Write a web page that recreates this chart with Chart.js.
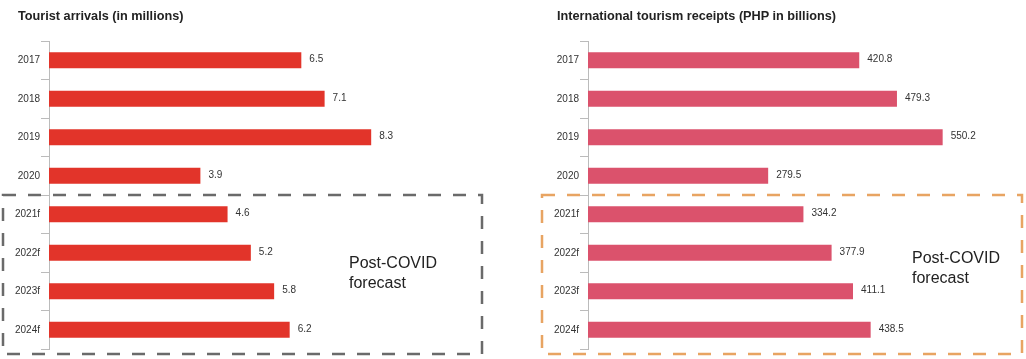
<!DOCTYPE html>
<html lang="en">
<head>
<meta charset="UTF-8">
<title>Tourism</title>
<style>
    body{
        margin: 0;
        background: #fff;
        font-family: "Liberation Sans", Arial, sans-serif;
    }
    .wrap{
        position: relative;
        width: 1026px;
        height: 359px;
        overflow: hidden;
    }
    .panel{
        position: absolute;
        top: 0;
        width: 513px;
        height: 359px;
    }
    .title{
        position: absolute;
        top: 8px;
        font-size: 12.7px;
        line-height: 16px;
        font-weight: bold;
        color: #222;
        white-space: nowrap;
    }
    .note{
        position: absolute;
        font-size: 16px;
        line-height: 20px;
        color: #222;
    }
</style>
</head>
<body>
<div class="wrap">
    <div class="panel" style="left:0px"><canvas id="chartArrivals" width="513" height="359"></canvas></div>
    <div class="panel" style="left:513px"><canvas id="chartReceipts" width="513" height="359"></canvas></div>
    <div class="title" style="left:18px">Tourist arrivals (in millions)</div>
    <div class="title" style="left:557px">International tourism receipts (PHP in billions)</div>
    <div class="note" style="left:349px;top:253px">Post-COVID<br>forecast</div>
    <div class="note" style="left:912px;top:248px">Post-COVID<br>forecast</div>
</div>

<script src="https://cdn.jsdelivr.net/npm/chart.js"></script>
<script>
// data
var years = ['2017', '2018', '2019', '2020', '2021f', '2022f', '2023f', '2024f'];
var arrivals = [6.5, 7.1, 8.3, 3.9, 4.6, 5.2, 5.8, 6.2];      // millions
var receipts = [420.8, 479.3, 550.2, 279.5, 334.2, 377.9, 411.1, 438.5]; // PHP billions
var forecastFrom = 4; // index of first forecast year

var FONT = '"Liberation Sans", Arial, sans-serif';

// value labels at the end of each bar
var valueLabels = {
    id: 'valueLabels',
    afterDatasetsDraw: function(chart) {
        var ctx = chart.ctx;
        var meta = chart.getDatasetMeta(0);
        var vals = chart.data.datasets[0].data;
        ctx.save();
        ctx.font = '10px ' + FONT;
        ctx.fillStyle = '#333';
        ctx.textBaseline = 'middle';
        ctx.textAlign = 'left';
        meta.data.forEach(function(bar, i) {
            ctx.fillText(vals[i].toFixed(1), bar.x + 8, bar.y - 1);
        });
        ctx.restore();
    }
};

// dashed box round the forecast years
var forecastBox = {
    id: 'forecastBox',
    afterDraw: function(chart, args, opts) {
        var y = chart.scales.y;
        var top = (y.getPixelForValue(forecastFrom - 1) + y.getPixelForValue(forecastFrom)) / 2;
        var bottom = chart.chartArea.bottom + 5;
        var ctx = chart.ctx;
        ctx.save();
        ctx.strokeStyle = opts.color;
        ctx.lineWidth = 2.5;
        ctx.setLineDash([13, 12]);
        ctx.strokeRect(opts.left, top, opts.right - opts.left, bottom - top);
        ctx.restore();
    }
};

function makeChart(id, values, color, xmax, pad, box) {
    var ctx = document.getElementById(id).getContext('2d');
    return new Chart(ctx, {
        type: 'bar',
        data: {
            labels: years,
            datasets: [{
                data: values,
                backgroundColor: color,
                borderWidth: 0,
                barPercentage: 0.83,
                categoryPercentage: 0.5
            }]
        },
        options: {
            indexAxis: 'y',
            responsive: false,
            animation: false,
            layout: {
                padding: pad
            },
            plugins: {
                legend: { display: false },
                tooltip: { enabled: false },
                forecastBox: box
            },
            scales: {
                x: {
                    display: false,
                    min: 0,
                    max: xmax
                },
                y: {
                    afterFit: function(axis) { axis.width = 40; },
                    border: { color: '#bbb', width: 1 },
                    grid: {
                        drawOnChartArea: false,
                        tickLength: 8,
                        color: '#bbb',
                        offset: true
                    },
                    ticks: {
                        padding: 1,
                        color: '#333',
                        font: { family: FONT, size: 10 }
                    }
                }
            }
        },
        plugins: [valueLabels, forecastBox]
    });
}

var arrivalsChart = makeChart('chartArrivals', arrivals, '#e2342a', 11,
    { top: 41, bottom: 10, left: 9, right: 37 },
    { color: '#6a6a6a', left: 3, right: 482 });

var receiptsChart = makeChart('chartReceipts', receipts, '#db526c', 650,
    { top: 41, bottom: 10, left: 35, right: 19 },
    { color: '#e8a462', left: 29, right: 509 });
</script>
</body>
</html>
